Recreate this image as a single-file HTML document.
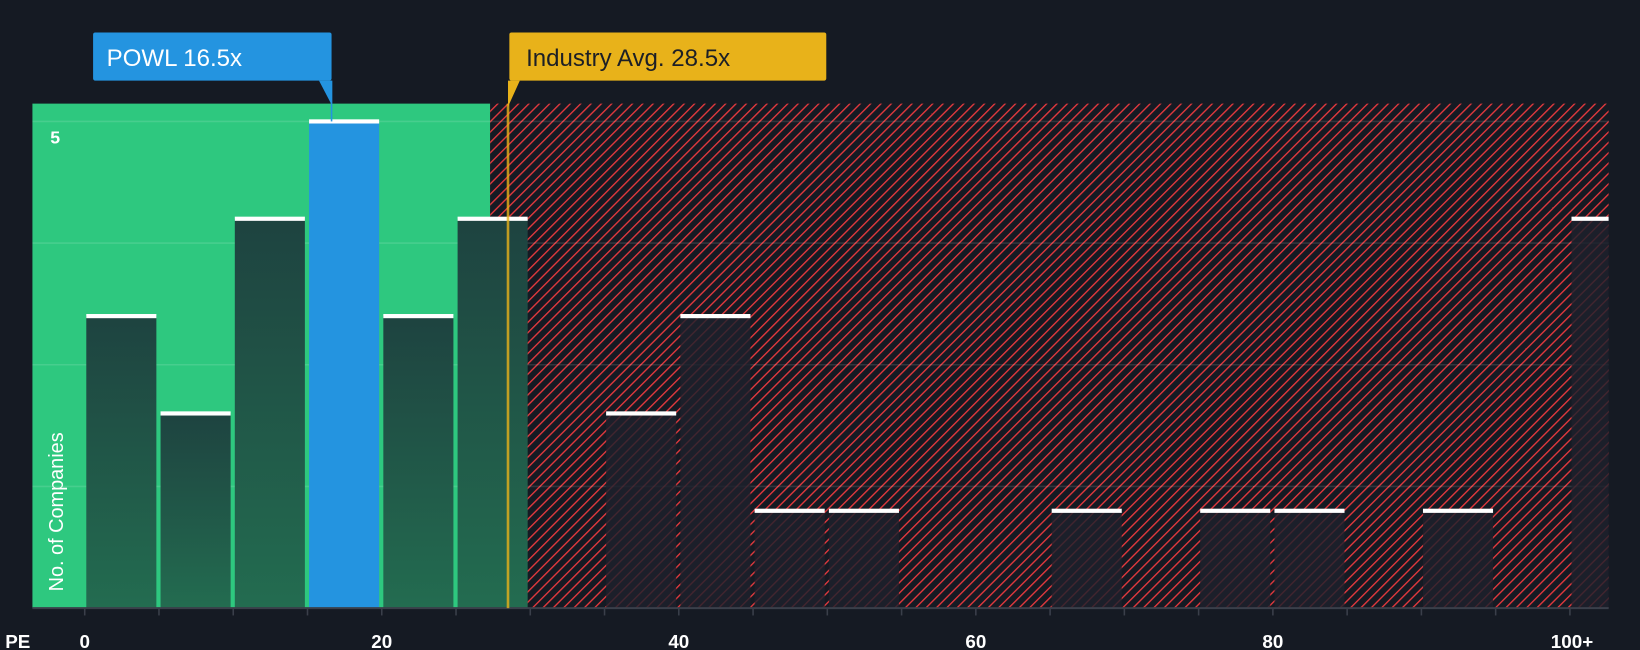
<!DOCTYPE html>
<html><head><meta charset="utf-8"><style>
html,body{margin:0;padding:0;background:#151a23;}
svg{display:block;font-family:"Liberation Sans",sans-serif;}
</style></head><body>
<svg id="chart" width="1640" height="650" viewBox="0 0 1568 621" preserveAspectRatio="none" xmlns="http://www.w3.org/2000/svg">
<defs>
<pattern id="hatch" patternUnits="userSpaceOnUse" width="7" height="7" patternTransform="rotate(45)">
<rect width="7" height="7" fill="#151a23"/>
<line x1="0" y1="0" x2="0" y2="7" stroke="#e5393e" stroke-width="2.6"/>
</pattern>
<linearGradient id="gbar" x1="0" y1="0" x2="0" y2="1">
<stop offset="0" stop-color="#1e4340"/><stop offset="1" stop-color="#236c50"/>
</linearGradient>
</defs>
<rect width="1568" height="621" fill="#151a23"/>
<g id="plot"></g>
</svg>
<script>
const binStarts = [0,5,10,15,20,25,30,35,40,45,50,55,60,65,70,75,80,85,90,95,100];
const counts    = [3,2,4,5,3,4,0,2,3,1,1,0,0,1,0,1,1,0,1,0,4];
const xTicks = [0,20,40,60,80];
const xTickLabels = ["0","20","40","60","80"];
const companyPE = 16.5;
const industryPE = 28.5;
const fairPE = 27.3;
const companyIdx = 3;

const NS="http://www.w3.org/2000/svg";
const g=document.getElementById('plot');
const L=31,T=99,R=1538,B=581;
const x0=81, pxPer=14.2, yPer=93;
const X=v=>x0+v*pxPer;
const Y=v=>B-v*yPer;
function mk(tag,attrs,parent){const e=document.createElementNS(NS,tag);for(const k in attrs)e.setAttribute(k,attrs[k]);(parent||g).appendChild(e);return e;}

let e;
e=mk('rect',{x:L,y:T,width:X(fairPE)-L,height:B-T,fill:'#2ec87f'});


e=mk('rect',{x:X(fairPE),y:T,width:R-X(fairPE),height:B-T,fill:'url(#hatch)'});


[1.25,2.5,3.75,5].forEach(v=>{
 e=mk('line',{x1:L,x2:R,y1:Y(v),y2:Y(v),stroke:'rgba(255,255,255,0.12)','stroke-width':1.5});
 
 
});
counts.forEach((c,i)=>{
 if(!c)return;
 const s=binStarts[i];
 const xa=X(s)+1.5, xb=(i===counts.length-1)?R:X(s+5)-2.5;
 const inGreen = X(s)<X(fairPE);
 let fill = i===companyIdx?'#2494e0':(inGreen?'url(#gbar)':'rgba(30,33,44,0.82)');
 e=mk('rect',{x:xa,y:Y(c),width:xb-xa,height:B-Y(c),fill:fill});
 
 
 e=mk('rect',{x:xa,y:Y(c)-2,width:xb-xa,height:4,fill:'#ffffff'});
 
 
});
e=mk('line',{x1:L,x2:R,y1:B,y2:B,stroke:'#3a3f4a','stroke-width':2});


for(let v=0;v<=100;v+=5){
 e=mk('line',{x1:X(v),x2:X(v),y1:B,y2:B+7,stroke:'#3a3f4a','stroke-width':1.5});
 
 
}
xTicks.forEach((v,i)=>{
 e=mk('text',{x:X(v),y:619,fill:'#fff','font-size':18,'font-weight':'bold','text-anchor':'middle'});
 e.textContent=xTickLabels[i];
 
 
});
e=mk('text',{x:X(100)+2,y:619,fill:'#fff','font-size':18,'font-weight':'bold','text-anchor':'middle'});
e.textContent='100+';


e=mk('text',{x:5,y:619,fill:'#fff','font-size':18,'font-weight':'bold'});
e.textContent='PE';


e=mk('text',{x:48,y:137,fill:'#fff','font-size':17,'font-weight':'bold'});
e.textContent='5';


e=mk('text',{x:0,y:0,fill:'#fff','font-size':19,transform:'translate(60,565) rotate(-90)'});
e.textContent='No. of Companies';


// industry line
e=mk('line',{x1:X(industryPE),x2:X(industryPE),y1:T,y2:B,stroke:'#e8b21a','stroke-width':2.5,'stroke-opacity':0.8});


// labels
e=mk('rect',{x:89,y:31,width:228,height:46,rx:2,fill:'#2494e0'});


e=mk('path',{d:`M305 77 L317 77 L317 100 Z`,fill:'#2494e0'});
e=mk('line',{x1:317,x2:317,y1:77,y2:Y(5),stroke:'#2494e0','stroke-width':1.5});


e=mk('text',{x:102,y:63,fill:'#fff','font-size':23});
e.textContent='POWL 16.5x';


const ix=X(industryPE);
e=mk('rect',{x:487,y:31,width:303,height:46,rx:2,fill:'#e8b21a'});


e=mk('path',{d:`M${ix} 77 L497 77 L${ix} 102 Z`,fill:'#e8b21a'});
e=mk('text',{x:503,y:63,fill:'#1c1f26','font-size':23});
e.textContent='Industry Avg. 28.5x';


</script>
</body></html>
